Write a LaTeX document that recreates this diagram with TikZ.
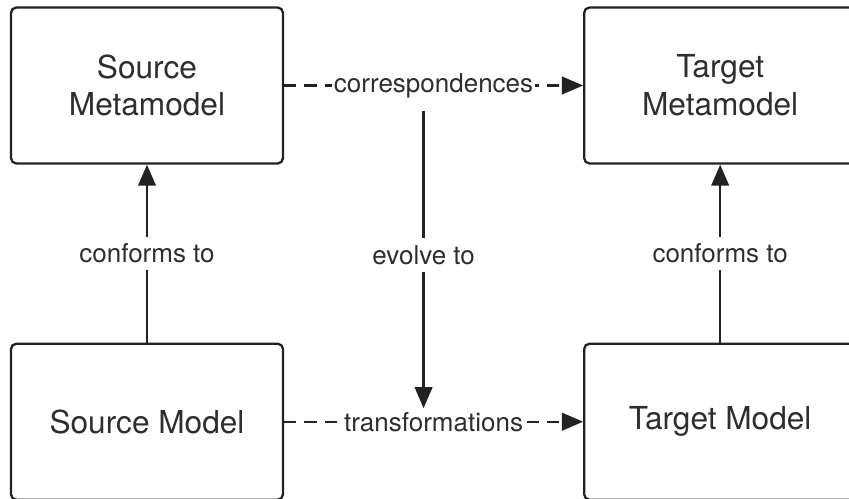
\documentclass[tikz,border=0pt]{standalone}
\usepackage{fontspec}
\setmainfont{TeX Gyre Heros}
\usetikzlibrary{positioning,arrows.meta}
\definecolor{inkdark}{HTML}{222222}
\definecolor{textgray}{HTML}{2E2E2E}
\tikzset{
  modelbox/.style={rounded corners=3pt, draw=inkdark, line width=1.3pt, minimum width=5.44cm, minimum height=3.12cm, align=center, text=textgray, font=\fontsize{18}{21.5}\selectfont},
  rellabel/.style={fill=white, text=textgray, inner xsep=1pt, inner ysep=4pt, font=\fontsize{14.8}{17}\selectfont},
  relarrow/.style={-{Triangle[length=12pt,width=10pt]}, line width=1.3pt, color=inkdark},
  reldash/.style={relarrow, dash pattern=on 7pt off 4.5pt}
}
\begin{document}
\begin{tikzpicture}[x=0.02cm, y=-0.02cm, node distance=3.56cm and 5.98cm]
\useasboundingbox (0,0) rectangle (849,499);
\clip (0,0) rectangle (849,499);
\node[modelbox] (srcmeta) at (147,85.5) {Source\\Metamodel};
\node[modelbox, right=of srcmeta] (tgtmeta) {Target\\Metamodel};
\node[modelbox, below=of srcmeta] (srcmodel) {Source Model};
\node[modelbox, right=of srcmodel] (tgtmodel) {Target Model};
% horizontal relations
\draw[reldash] (srcmeta) -- node[rellabel] (corr) {correspondences} (tgtmeta);
\draw[reldash] (srcmodel) -- node[rellabel] (trans) {transformations} (tgtmodel);
% conformance
\draw[relarrow] (srcmodel) -- node[rellabel] {conforms to} (srcmeta);
\draw[relarrow] (tgtmodel) -- node[rellabel] {conforms to} (tgtmeta);
\draw[relarrow, shorten <=3pt, shorten >=-2.5pt] ([xshift=-0.2cm]corr.south) -- node[rellabel] {evolve to} ([xshift=-0.2cm]trans.north);
\end{tikzpicture}
\end{document}
